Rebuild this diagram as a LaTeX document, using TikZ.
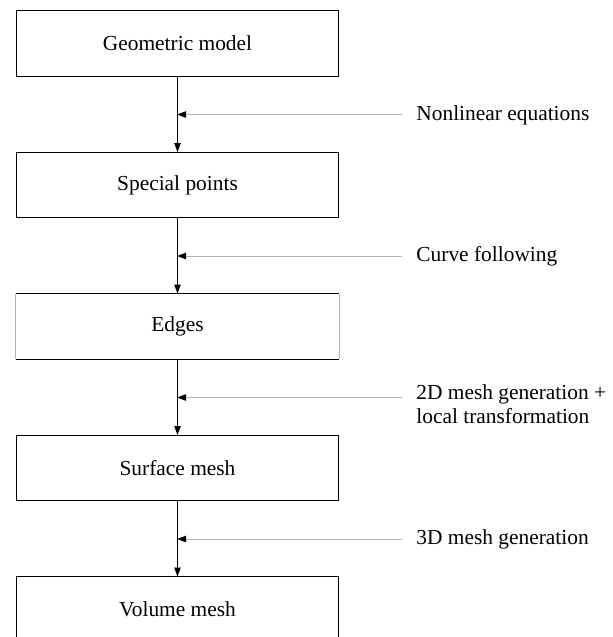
\documentclass[tikz,border=0pt]{standalone}
\usepackage{fontspec}
\setmainfont{Liberation Serif}
\usetikzlibrary{arrows.meta}
\begin{document}
\begin{tikzpicture}[x=0.4673pt,y=-0.4673pt,
  stage/.style={minimum width=150.9pt,minimum height=30.4pt,inner sep=0pt,font=\fontsize{10}{12}\selectfont},
  boxed/.style={stage,draw=black,line width=0.45pt},
  flow/.style={draw=black,line width=0.45pt,-{Triangle[length=4.2pt,width=3pt]}},
  side/.style={draw=black!30,line width=0.4pt,-{Triangle[length=4.2pt,width=3pt,color=black]},shorten >=-0.2pt},
  lab/.style={anchor=base west,inner sep=0pt,font=\fontsize{10}{12}\selectfont}]
\clip (0,0) rectangle (613,637);
\node[boxed] (b1) at (177.5,43.5) {Geometric model};
\node[boxed] (b2) at (177.5,185) {Special points};
\node[stage] (b3) at (177.5,326.5) {Edges};
\node[boxed] (b4) at (177.5,468) {Surface mesh};
\node[boxed] (b5) at (177.5,609.5) {Volume mesh};
\draw[black,line width=0.45pt] (b3.north west) -- (b3.north east);
\draw[black,line width=0.45pt] (b3.south west) -- (b3.south east);
\draw[black!30,line width=0.4pt] (b3.north west) -- (b3.south west);
\draw[black!30,line width=0.4pt] (b3.north east) -- (b3.south east);
\draw[flow] (b1.south) -- (b2.north);
\draw[flow] (b2.south) -- (b3.north);
\draw[flow] (b3.south) -- (b4.north);
\draw[flow] (b4.south) -- (b5.north);
\coordinate (s1) at (402,114.5);
\coordinate (s2) at (402,256);
\coordinate (s3) at (402,397.5);
\coordinate (s4) at (402,539);
\draw[side] (s1) -- (s1 -| b1.south);
\draw[side] (s2) -- (s2 -| b2.south);
\draw[side] (s3) -- (s3 -| b3.south);
\draw[side] (s4) -- (s4 -| b4.south);
\node[lab] (l1) at (416,120) {Nonlinear equations};
\node[lab] (l2) at (416,261.5) {Curve following};
\node[lab] (l3) at (416,399.5) {\vtop{\baselineskip=11.3pt\hbox{2D mesh generation +}\hbox{local transformation}}};
\node[lab] (l4) at (416,544.5) {3D mesh generation};
\end{tikzpicture}
\end{document}
